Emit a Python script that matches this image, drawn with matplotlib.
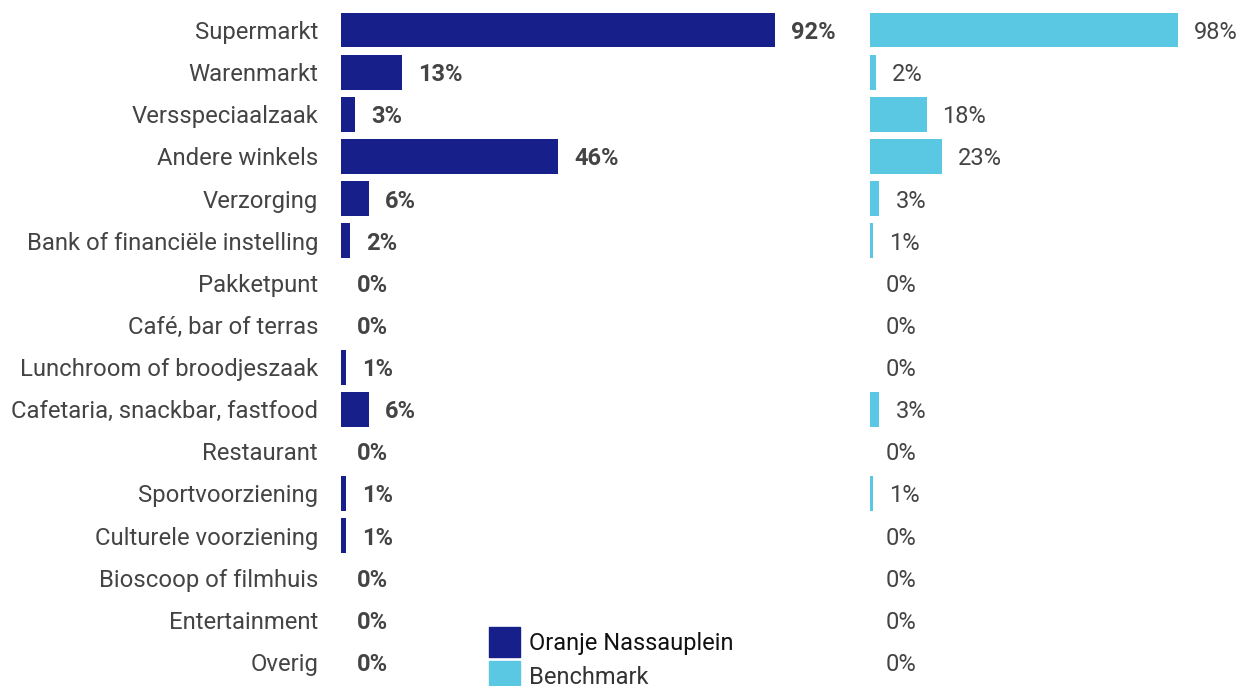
import numpy as np
import matplotlib.pyplot as plt
from matplotlib.patches import Patch

plt.rcParams['font.family'] = ['Roboto', 'DejaVu Sans']

categories = ['Supermarkt', 'Warenmarkt', 'Versspeciaalzaak', 'Andere winkels', 'Verzorging',
              'Bank of financiële instelling', 'Pakketpunt', 'Café, bar of terras',
              'Lunchroom of broodjeszaak', 'Cafetaria, snackbar, fastfood', 'Restaurant',
              'Sportvoorziening', 'Culturele voorziening', 'Bioscoop of filmhuis',
              'Entertainment', 'Overig']
oranje = [92, 13, 3, 46, 6, 2, 0, 0, 1, 6, 0, 1, 1, 0, 0, 0]
benchmark = [98, 2, 18, 23, 3, 1, 0, 0, 0, 3, 0, 1, 0, 0, 0, 0]

navy = '#171f8a'
light = '#5bc8e3'
txt = '#444444'

W, H = 1240, 686
fig = plt.figure(figsize=(W/100, H/100), dpi=100)

y = np.arange(len(categories))
row = 42.13
top = 30 - row/2
bot = top + row*len(categories)

def panel(x0, width, vals, color, bold, labels):
    ax = fig.add_axes([x0/W, 1 - bot/H, width/W, (bot - top)/H])
    ax.barh(y, vals, height=0.83, color=color)
    ax.set_xlim(0, 100)
    ax.set_ylim(len(categories) - 0.5, -0.5)
    for s in ax.spines.values():
        s.set_visible(False)
    ax.set_xticks([])
    ax.tick_params(axis='y', length=0, pad=16.5)
    if labels:
        ax.set_yticks(y)
        ax.set_yticklabels(categories, fontsize=17.2, color=txt)
    else:
        ax.set_yticks([])
    for yi, v in zip(y, vals):
        ax.annotate(f'{v}%', (v, yi), xytext=(11.5, 0), textcoords='offset points',
                    va='center_baseline', ha='left', fontsize=17, color=txt,
                    fontweight='bold' if bold else 'normal')
    return ax

panel(341, 472, oranje, navy, True, True)
panel(870, 314, benchmark, light, False, False)

handles = [Patch(color=navy, label='Oranje Nassauplein'), Patch(color=light, label='Benchmark')]
leg = fig.legend(handles=handles, loc='upper left', bbox_to_anchor=(489/W, 1 - 627/H),
                 frameon=False, fontsize=17, handlelength=1.3, handleheight=1.55,
                 handletextpad=0.38, labelspacing=0.2, borderpad=0, borderaxespad=0)
for t, c in zip(leg.get_texts(), ['#111111', '#333333']):
    t.set_color(c)

fig.savefig('out.png', dpi=100)
